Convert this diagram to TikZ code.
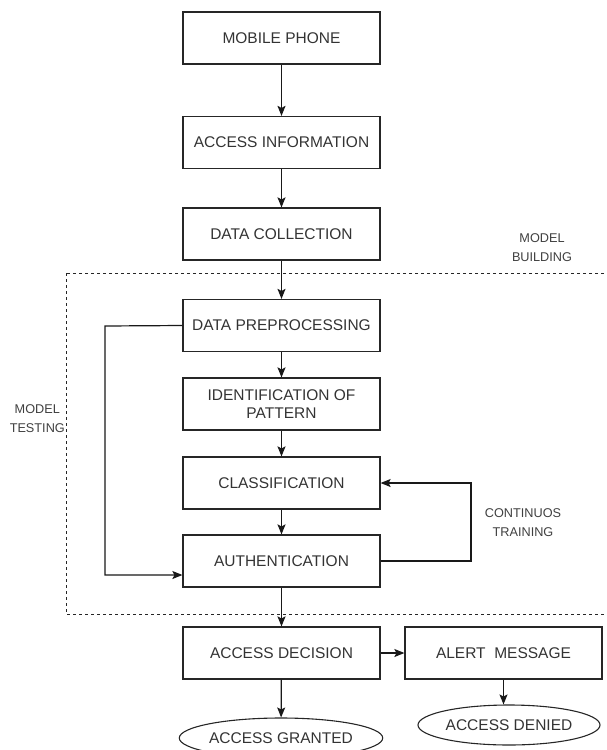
\documentclass[tikz,border=0pt]{standalone}
\usepackage{fontspec}
\setmainfont{Liberation Sans}
\usetikzlibrary{arrows.meta,shapes.geometric}

\begin{document}
\begin{tikzpicture}[x=1pt,y=-1pt,
  stage/.style={draw=black!85,line width=1.2pt,minimum width=197pt,minimum height=52pt,
    inner sep=0pt,align=center,text=black!80,font=\fontsize{15.5}{18.5}\selectfont},
  outcome/.style={ellipse,draw=black!85,line width=1.1pt,minimum width=184pt,minimum height=40pt,
    inner sep=0pt,text=black!80,font=\fontsize{15.5}{18.5}\selectfont},
  note/.style={align=center,text=black!75,font=\fontsize{12.7}{19}\selectfont},
  flow/.style={-{Stealth[length=10pt,width=8pt,inset=2pt]},line width=1.2pt,black!90}]
\useasboundingbox (0,0) rectangle (606,750);
\clip (0,0) rectangle (606,750);
% main column
\node[stage] (mobile)   at (281.5,38)  {MOBILE PHONE};
\node[stage] (access)   at (281.5,142.5) {ACCESS INFORMATION};
\node[stage] (collect)  at (281.5,234) {DATA COLLECTION};
\node[stage] (prep)     at (281.5,325.5) {DATA PREPROCESSING};
\node[stage] (ident)    at (281.5,404) {IDENTIFICATION OF\\PATTERN};
\node[stage] (classif)  at (281.5,483) {CLASSIFICATION};
\node[stage] (auth)     at (281.5,561) {AUTHENTICATION};
\node[stage] (decision) at (281.5,653) {ACCESS DECISION};
\node[stage] (alert)    at (503.5,653) {ALERT\ \ MESSAGE};
\node[outcome] (granted) at (281,738) {ACCESS GRANTED};
\node[outcome,minimum width=182pt] (denied) at (509,725) {ACCESS DENIED};
% model building area
\draw[black!85,line width=1pt,dash pattern=on 3pt off 3pt] (66,273) rectangle (612,614);
\node[note] (building) at (542,248) {MODEL\\BUILDING};
\node[note,anchor=east,inner sep=0pt] (testing) at (65,419) {MODEL\\TESTING};
\node[note] (training) at (523,523) {CONTINUOS\\TRAINING};
% connectors
\draw[flow] (mobile) -- (access);
\draw[flow] (access) -- (collect);
\draw[flow] (collect) -- (prep);
\draw[flow] (prep) -- (ident);
\draw[flow] (ident) -- (classif);
\draw[flow] (classif) -- (auth);
\draw[flow] (auth) -- (decision);
\draw[flow] (decision) -- (alert);
\draw[flow] (decision) -- (granted);
\draw[flow] (alert.south) -- (alert.south |- denied.north);
\coordinate (skip) at (105,326);
\draw[flow] (prep.west) -- (skip) |- ([yshift=-14pt]auth.west);
\coordinate (loop) at (471,561);
\draw[flow] (auth.east) -- (loop) |- (classif.east);
\end{tikzpicture}
\end{document}
